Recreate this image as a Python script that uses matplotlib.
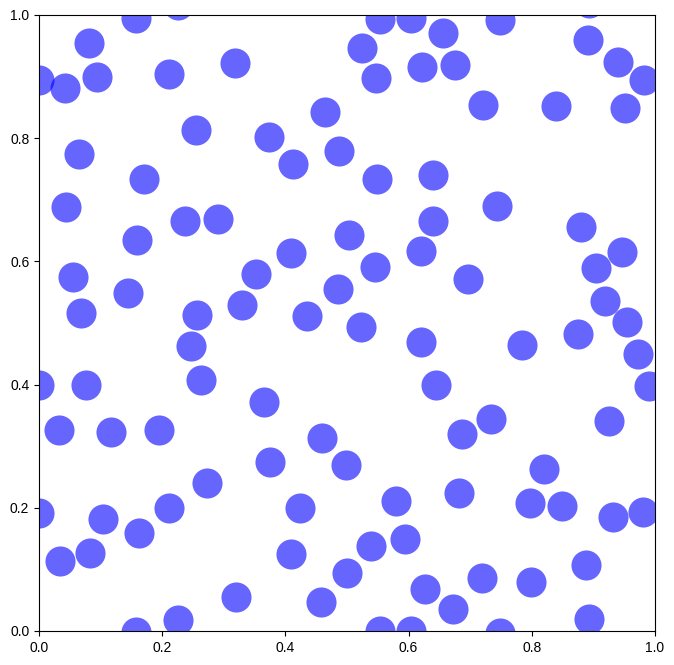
import matplotlib
matplotlib.use("Agg")
import matplotlib.pyplot as plt

plt.rcParams['font.family'] = ['Liberation Sans', 'DejaVu Sans']

x = [0.157, 0.226, 0.081, 0.094, 0.042, 0.000, 0.211, 0.318, 0.255, 0.373,
     0.412, 0.464, 0.487, 0.524, 0.553, 0.547, 0.604, 0.622, 0.656, 0.675,
     0.748, 0.721, 0.893, 0.891, 0.940, 0.982, 0.951, 0.839, 0.065, 0.170,
     0.044, 0.237, 0.291, 0.159, 0.056, 0.144, 0.068, 0.257, 0.329, 0.352,
     0.409, 0.435, 0.485, 0.503, 0.523, 0.545, 0.549, 0.620, 0.640, 0.640,
     0.696, 0.744, 0.880, 0.904, 0.946, 0.919, 0.955, 0.875, 0.972, 0.990,
     0.784, 0.620, 0.644, 0.734, 0.687, 0.925, 0.820, 0.682, 0.797, 0.849,
     0.932, 0.981, 0.888, 0.719, 0.799, 0.893, 0.748, 0.672, 0.627, 0.594,
     0.579, 0.539, 0.500, 0.458, 0.553, 0.604, 0.498, 0.459, 0.424, 0.409,
     0.375, 0.365, 0.263, 0.247, 0.273, 0.211, 0.162, 0.195, 0.117, 0.032,
     0.077, 0.000, 0.000, 0.104, 0.083, 0.034, 0.158, 0.226, 0.320]
y = [0.995, 1.016, 0.955, 0.899, 0.882, 0.894, 0.904, 0.922, 0.813, 0.802,
     0.758, 0.843, 0.779, 0.946, 0.994, 0.898, 0.995, 0.916, 0.971, 0.919,
     0.992, 0.854, 1.019, 0.959, 0.924, 0.894, 0.849, 0.852, 0.774, 0.734,
     0.688, 0.666, 0.669, 0.635, 0.574, 0.549, 0.516, 0.513, 0.529, 0.580,
     0.614, 0.511, 0.555, 0.643, 0.494, 0.591, 0.734, 0.617, 0.666, 0.740,
     0.572, 0.690, 0.656, 0.589, 0.615, 0.536, 0.501, 0.482, 0.450, 0.398,
     0.464, 0.469, 0.399, 0.344, 0.320, 0.341, 0.263, 0.224, 0.208, 0.203,
     0.185, 0.193, 0.107, 0.086, 0.080, 0.019, -0.004, 0.036, 0.068, 0.149,
     0.211, 0.138, 0.094, 0.047, 0.000, 0.000, 0.270, 0.313, 0.200, 0.125,
     0.274, 0.372, 0.407, 0.463, 0.241, 0.200, 0.159, 0.326, 0.323, 0.326,
     0.400, 0.400, 0.192, 0.182, 0.127, 0.114, -0.001, 0.018, 0.055]

fig = plt.figure(figsize=(6.74, 6.65), dpi=100)
ax = fig.add_axes([39/674, 34/665, 616/674, 616/665])
ax.scatter(x, y, s=470, color=(0, 0, 1), alpha=0.6, linewidths=0)
ax.set_xlim(0, 1)
ax.set_ylim(0, 1)
ax.tick_params(labelsize=10)
fig.savefig("out.png", dpi=100)
